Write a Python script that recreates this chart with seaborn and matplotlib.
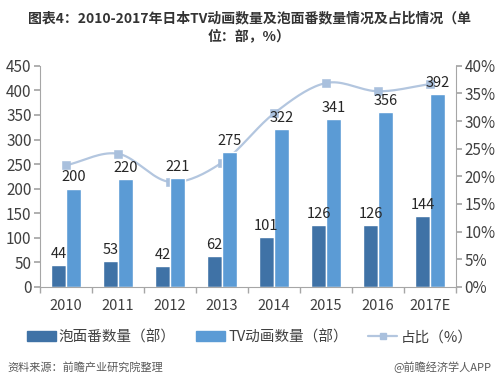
import numpy as np
import pandas as pd
import matplotlib
matplotlib.use("Agg")
import matplotlib.pyplot as plt
import seaborn as sns
from matplotlib.lines import Line2D
from matplotlib.patches import Patch

# 数据
years = ["2010", "2011", "2012", "2013", "2014", "2015", "2016", "2017E"]
paomian = [44, 53, 42, 62, 101, 126, 126, 144]
tv_anime = [200, 220, 221, 275, 322, 341, 356, 392]
ratio = [22.0, 24.1, 19.0, 22.5, 31.4, 36.9, 35.4, 36.7]

series_names = ["泡面番数量（部）", "TV动画数量（部）", "占比（%）"]
title = "图表4：2010-2017年日本TV动画数量及泡面番数量情况及占比情况（单\n位：部，%）"
source_left = "资料来源：前瞻产业研究院整理"
source_right = "@前瞻经济学人APP"

sns.set_theme(style="white")
plt.rcParams["font.family"] = ["Noto Sans CJK SC", "DejaVu Sans"]

c_dark = "#3f72a6"
c_light = "#5b9bd5"
c_line = "#b3c6df"
c_axis = "#a6a6a6"
c_text = "#404040"

df = pd.DataFrame({
    "year": years * 2,
    "value": paomian + tv_anime,
    "series": [series_names[0]] * len(years) + [series_names[1]] * len(years),
})

fig = plt.figure(figsize=(4.99, 3.83), dpi=100)
ax = fig.add_axes([0.08, 0.251, 0.834, 0.577])

sns.barplot(data=df, x="year", y="value", hue="series", ax=ax,
            palette=[c_dark, c_light], width=0.58, saturation=1,
            legend=False, zorder=2)
for cont in ax.containers:
    ax.bar_label(cont, padding=3, fontsize=10.5, color="#262626")

ax.set_xlim(-0.5, len(years) - 0.5)
ax.set_ylim(0, 450)
ax.set_yticks(np.arange(0, 451, 50))
ax.set_xlabel("")
ax.set_ylabel("")

# 占比折线（平滑）
ax2 = ax.twinx()
x = np.arange(len(years))
r = np.array(ratio)
xs, ys = [], []
pts = np.column_stack([x, r])
ext = np.vstack([pts[0] - (pts[1] - pts[0]), pts, pts[-1] + (pts[-1] - pts[-2])])
for i in range(1, len(ext) - 2):
    p0, p1, p2, p3 = ext[i - 1], ext[i], ext[i + 1], ext[i + 2]
    t = np.linspace(0, 1, 20)[:, None]
    seg = 0.5 * ((2 * p1) + (-p0 + p2) * t + (2 * p0 - 5 * p1 + 4 * p2 - p3) * t ** 2
                 + (-p0 + 3 * p1 - 3 * p2 + p3) * t ** 3)
    xs.extend(seg[:, 0]); ys.extend(seg[:, 1])
ax2.plot(xs, ys, color=c_line, lw=1.6, zorder=1)
sns.scatterplot(x=x, y=r, ax=ax2, marker="s", s=28, color="#a9c0dd",
                edgecolor="#a9c0dd", zorder=3, legend=False)
ax2.set_ylim(0, 40)
ax2.set_yticks(np.arange(0, 41, 5))
ax2.set_yticklabels([f"{v}%" for v in range(0, 41, 5)])
ax.set_zorder(ax2.get_zorder() + 1)
ax.patch.set_visible(False)

for a in (ax, ax2):
    a.spines["top"].set_visible(False)
    for s in ["left", "right", "bottom"]:
        a.spines[s].set_color(c_axis)
        a.spines[s].set_linewidth(0.8)
    a.grid(False)
ax.spines["right"].set_visible(False)
ax2.spines["left"].set_visible(False)
ax2.spines["bottom"].set_visible(False)

ax.tick_params(axis="y", left=True, length=4, color=c_axis, labelsize=11, labelcolor=c_text, pad=2)
ax2.tick_params(axis="y", right=True, length=4, color=c_axis, labelsize=11, labelcolor=c_text, pad=2)
ax.tick_params(axis="x", which="major", length=0, labelsize=10.5, labelcolor=c_text, pad=9)
ax.set_xticks(np.arange(-0.5, len(years), 1), minor=True)
ax.tick_params(axis="x", which="minor", bottom=True, length=4, color=c_axis)

handles = [Patch(color=c_dark), Patch(color=c_light),
           Line2D([], [], color=c_line, lw=1.6, marker="s", markersize=5,
                  markerfacecolor="#a9c0dd", markeredgecolor="#a9c0dd")]
fig.legend(handles, series_names, loc="center", bbox_to_anchor=(0.5, 0.12),
           ncol=3, frameon=False, fontsize=10.5, handlelength=2.0, handleheight=0.6,
           columnspacing=1.4, handletextpad=0.2, labelcolor=c_text)

fig.text(0.5, 0.97, title, ha="center", va="top", fontsize=10, fontweight="bold",
         color="#333333", linespacing=1.35)
fig.text(0.015, 0.04, source_left, ha="left", va="center", fontsize=8, color="#595959")
fig.text(0.985, 0.04, source_right, ha="right", va="center", fontsize=8, color="#595959")

fig.savefig("out.png", dpi=100, facecolor="white")
